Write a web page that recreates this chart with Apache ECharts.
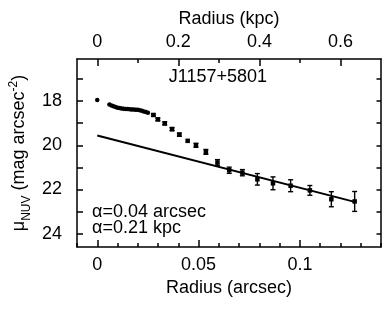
<!DOCTYPE html>
<html><head><meta charset="utf-8">
<script src="https://cdn.jsdelivr.net/npm/echarts@6/dist/echarts.min.js"></script>
<style>html,body{margin:0;padding:0;background:#fff}#c{width:383px;height:314px}</style>
</head><body><div id="c"></div>
<script>
// central point
const centerR = [0];
const centerMu = [17.95];
// densely sampled inner profile
const denseR = [0.006,0.007,0.008,0.009,0.010,0.011,0.012,0.013,0.014,0.015,0.016,0.017,0.018,0.019,0.020,0.021,0.022,0.023,0.024,0.025];
const denseMu = [18.16,18.20,18.24,18.27,18.30,18.32,18.34,18.35,18.36,18.36,18.37,18.38,18.38,18.39,18.40,18.42,18.44,18.47,18.50,18.53];
// outer profile with error bars
const sparseR = [0.0277,0.0299,0.0333,0.0369,0.0405,0.0446,0.0487,0.0536,0.0593,0.0651,0.0716,0.0790,0.0867,0.0954,0.1049,0.1155,0.1270];
const sparseMu = [18.63,18.83,19.01,19.27,19.52,19.80,20.00,20.30,20.78,21.13,21.24,21.54,21.72,21.83,22.04,22.44,22.54];
const sparseErr = [0.05,0.06,0.07,0.07,0.07,0.0,0.09,0.11,0.13,0.14,0.14,0.26,0.29,0.27,0.22,0.34,0.45];
// exponential disk fit
const fitR = [0, 0.127];
const fitMu = [19.56, 22.56];
// tick labels
const xLabels = [0, 0.05, 0.1];
const xMinor = [-0.01,0,0.01,0.02,0.03,0.04,0.05,0.06,0.07,0.08,0.09,0.1,0.11,0.12,0.13,0.14];
const kpcLabels = [0, 0.2, 0.4, 0.6];
const kpcTicks = [0,0.1,0.2,0.3,0.4,0.5,0.6];
const yLabels = [18, 20, 22, 24];
const yTicks = [17,18,19,20,21,22,23,24];

const FONT = 'Liberation Sans, Arial, Helvetica, sans-serif';
const lineStyle = {color:'#000', width:1.5};
const chart = echarts.init(document.getElementById('c'));

const zip = (a,b)=>a.map((v,i)=>[v,b[i]]);

chart.setOption({
  animation:false,
  backgroundColor:'#fff',
  grid:{left:77, right:2, top:59, bottom:67, containLabel:false},
  xAxis:[
    {type:'value', position:'bottom', min:-0.01, max:0.14,
     axisLine:{show:true, onZero:false, lineStyle}, splitLine:{show:false},
     axisTick:{show:true, inside:true, length:7, lineStyle, customValues:xLabels},
     axisLabel:{show:true, margin:9, fontSize:18, color:'#000', fontFamily:FONT, customValues:xLabels,
       formatter:v=>String(v)},
     name:'Radius (arcsec)', nameLocation:'middle', nameGap:31,
     nameTextStyle:{fontSize:18, color:'#000', fontFamily:FONT}},
    {type:'value', position:'bottom', min:-0.01, max:0.14,
     axisLine:{show:false, onZero:false}, splitLine:{show:false},
     axisTick:{show:true, inside:true, length:4, lineStyle, customValues:xMinor},
     axisLabel:{show:false}},
    {type:'value', position:'top', min:-0.05, max:0.70,
     axisLine:{show:true, onZero:false, lineStyle}, splitLine:{show:false},
     axisTick:{show:true, inside:true, length:7, lineStyle, customValues:kpcLabels},
     axisLabel:{show:true, margin:8, fontSize:18, color:'#000', fontFamily:FONT, customValues:kpcLabels,
       formatter:v=>String(v)},
     name:'Radius (kpc)', nameLocation:'middle', nameGap:29,
     nameTextStyle:{fontSize:18, color:'#000', fontFamily:FONT}},
    {type:'value', position:'top', min:-0.05, max:0.70,
     axisLine:{show:false, onZero:false}, splitLine:{show:false},
     axisTick:{show:true, inside:true, length:4, lineStyle, customValues:kpcTicks},
     axisLabel:{show:false}}
  ],
  yAxis:[
    {type:'value', position:'left', inverse:true, min:16.1, max:24.6,
     axisLine:{show:true, onZero:false, lineStyle}, splitLine:{show:false},
     axisTick:{show:true, inside:true, length:6, lineStyle, customValues:yTicks},
     axisLabel:{show:true, margin:15, fontSize:18, color:'#000', fontFamily:FONT, customValues:yLabels}},
    {type:'value', position:'right', inverse:true, min:16.1, max:24.6,
     axisLine:{show:true, onZero:false, lineStyle}, splitLine:{show:false},
     axisTick:{show:true, inside:true, length:4.5, lineStyle, customValues:yTicks},
     axisLabel:{show:false}}
  ],
  graphic:[
    {type:'text', x:19, y:153, rotation:Math.PI/2,
     style:{text:'{a|μ}{s|NUV}{a| (mag arcsec}{p|-2}{a|)}', align:'center', verticalAlign:'middle',
       rich:{
         a:{fontSize:18, fontFamily:FONT, fill:'#000', lineHeight:22},
         s:{fontSize:12, fontFamily:FONT, fill:'#000', verticalAlign:'bottom', lineHeight:12, padding:[0,0,-3,0]},
         p:{fontSize:12, fontFamily:FONT, fill:'#000', verticalAlign:'top', lineHeight:12}
       }}},
    {type:'text', x:218, y:77,
     style:{text:'J1157+5801', fontSize:18, fontFamily:FONT, fill:'#000', align:'center', verticalAlign:'middle'}},
    {type:'text', x:92, y:220,
     style:{text:'α=0.04 arcsec\nα=0.21 kpc', fontSize:18, lineHeight:16, fontFamily:FONT, fill:'#000', align:'left', verticalAlign:'middle'}}
  ],
  series:[
    {type:'line', xAxisIndex:0, yAxisIndex:0, data:zip(fitR, fitMu), symbol:'none',
     lineStyle:{color:'#000', width:2}, z:2},
    {type:'custom', xAxisIndex:0, yAxisIndex:0, z:3,
     data:sparseR.map((r,i)=>[r, sparseMu[i]-sparseErr[i], sparseMu[i]+sparseErr[i]]),
     renderItem:function(params, api){
       const lo = api.coord([api.value(0), api.value(1)]);
       const hi = api.coord([api.value(0), api.value(2)]);
       if (Math.abs(hi[1]-lo[1]) < 0.5) return {type:'group', children:[]};
       const w = 2.5;
       const st = {stroke:'#000', lineWidth:1.4};
       return {type:'group', children:[
         {type:'line', shape:{x1:lo[0], y1:lo[1], x2:hi[0], y2:hi[1]}, style:st},
         {type:'line', shape:{x1:lo[0]-w, y1:lo[1], x2:lo[0]+w, y2:lo[1]}, style:st},
         {type:'line', shape:{x1:hi[0]-w, y1:hi[1], x2:hi[0]+w, y2:hi[1]}, style:st}
       ]};
     }},
    {type:'scatter', xAxisIndex:0, yAxisIndex:0, z:4, data:zip(sparseR, sparseMu),
     symbol:'rect', symbolSize:4.5, itemStyle:{color:'#000', opacity:1}},
    {type:'scatter', xAxisIndex:0, yAxisIndex:0, z:4, data:zip(denseR, denseMu),
     symbol:'circle', symbolSize:4.5, itemStyle:{color:'#000', opacity:1}},
    {type:'scatter', xAxisIndex:0, yAxisIndex:0, z:4, data:zip(centerR, centerMu),
     symbol:'circle', symbolSize:4.5, itemStyle:{color:'#000', opacity:1}}
  ]
});
</script></body></html>
